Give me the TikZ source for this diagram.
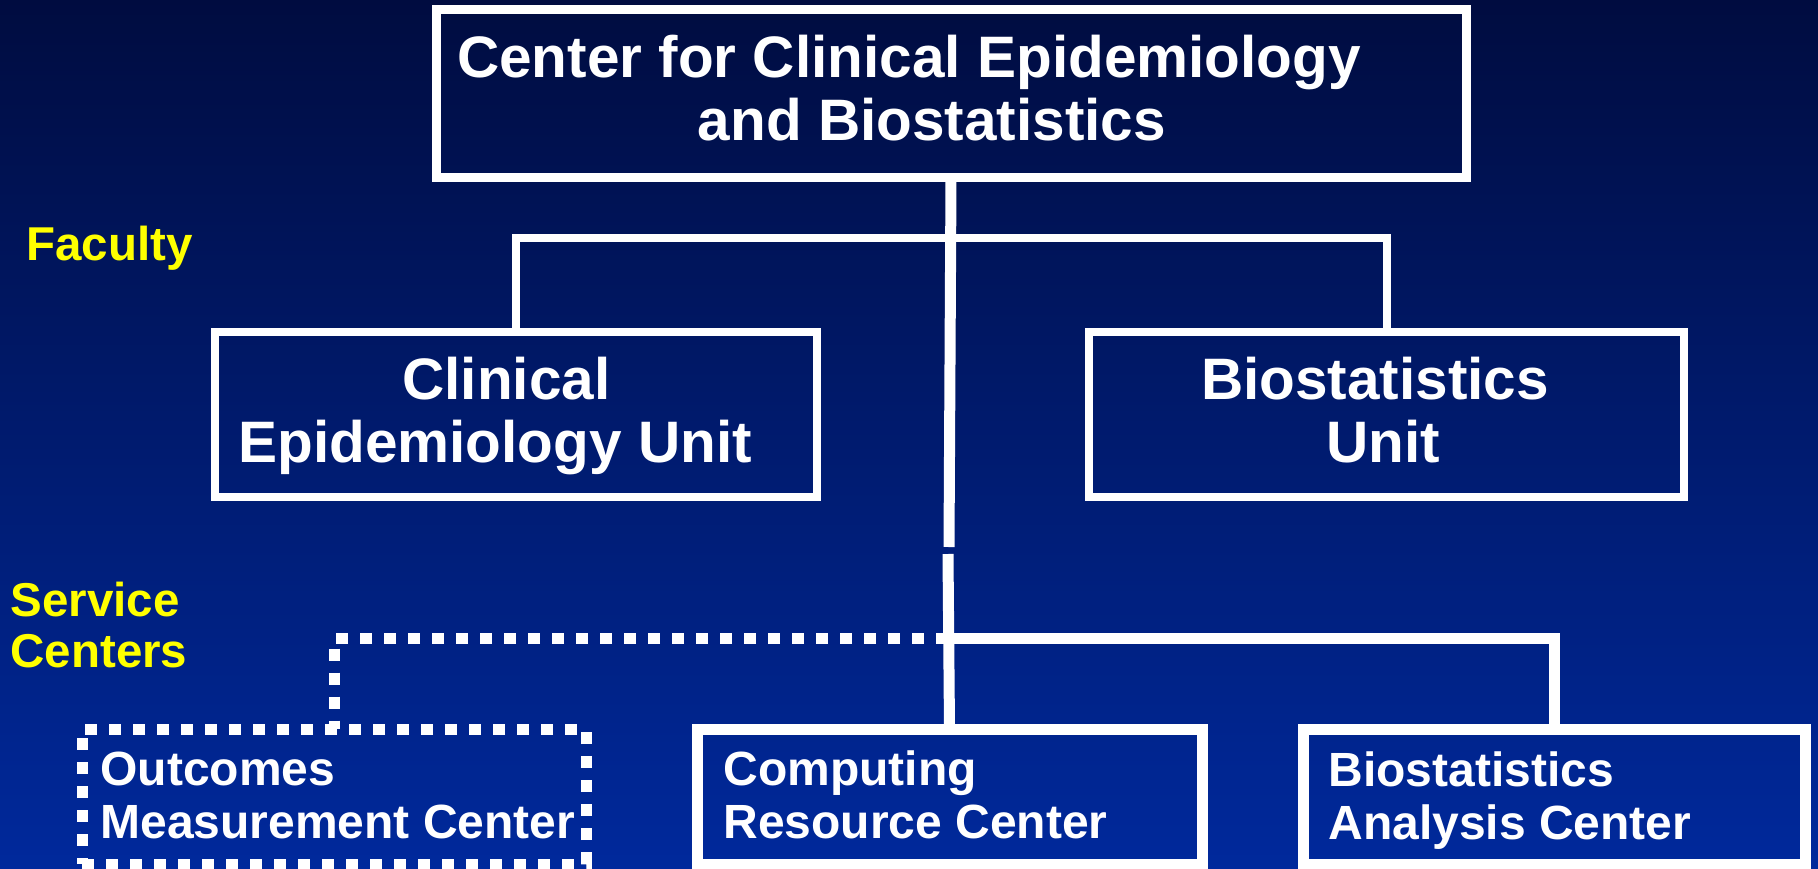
\documentclass[tikz,border=0pt]{standalone}
\usepackage{fontspec}
\setmainfont{Liberation Sans}
\usepackage{tikz}
\usepackage{xcolor}

\definecolor{navytop}{HTML}{000C40}
\definecolor{navybottom}{HTML}{00299C}
\definecolor{tagyellow}{HTML}{FFFF00}

\newcommand{\boxbig}{\fontsize{58.5pt}{63pt}\selectfont\bfseries}
\newcommand{\boxsmall}{\fontsize{48pt}{53pt}\selectfont\bfseries}
\newcommand{\tagfont}{\fontsize{47.5pt}{51pt}\selectfont\bfseries}

\tikzset{
    unitbox/.style={draw=white, rectangle, anchor=north west, inner sep=0pt, outer sep=0pt},
    dotbox/.style={unitbox, dash pattern=on 12pt off 12pt},
    boxtext/.style={text=white, inner sep=0pt},
    tagtext/.style={text=tagyellow, inner sep=0pt, font=\tagfont, align=left},
}

\begin{document}
\begin{tikzpicture}[x=1pt, y=-1pt, line width=11pt]

	% background
	\useasboundingbox (0,0) rectangle (1818,869);
	\fill[top color=navytop, bottom color=navybottom] (0,0) rectangle (1818,869);

	% top of the tree
	\node[unitbox, line width=9pt, minimum width=1030pt, minimum height=168pt] (cceb) at (436,10) {};
	\node[boxtext, font=\boxbig, align=center] (cceb-txt) at (909,88)
	    {Center for Clinical Epidemiology\\\hspace*{46pt}and Biostatistics};

	% faculty units
	\node[unitbox, line width=8pt, minimum width=602pt, minimum height=165pt] (ceu) at (215,332) {};
	\node[boxtext, font=\boxbig, align=center] (ceu-txt) at (495,416)
	    {\hspace*{23pt}Clinical\\Epidemiology Unit};

	\node[unitbox, line width=8pt, minimum width=595pt, minimum height=165pt] (bu) at (1089,332) {};
	\node[boxtext, font=\boxbig, align=center] (bu-txt) at (1375,410)
	    {Biostatistics\\\hspace*{16pt}Unit};

	% service centers
	\node[dotbox, minimum width=504pt, minimum height=135pt] (omc) at (82,729) {};
	\node[boxtext, font=\boxsmall, align=left, anchor=west] (omc-txt) at (95,795)
	    {Outcomes\\Measurement Center};

	\node[unitbox, minimum width=505pt, minimum height=135pt] (crc) at (697,729) {};
	\node[boxtext, font=\boxsmall, align=left, anchor=west] (crc-txt) at (718,795)
	    {Computing\\Resource Center};

	\node[unitbox, minimum width=502pt, minimum height=135pt] (bac) at (1303,729) {};
	\node[boxtext, font=\boxsmall, align=left, anchor=west] (bac-txt) at (1323,801)
	    {Biostatistics\\Analysis Center};

	% side tags
	\node[tagtext, anchor=base west] (faculty) at (21,261) {Faculty};
	\node[tagtext, anchor=west] (service) at (5,625) {Service\\Centers};

	% connectors
	\coordinate (facbar) at (951,238);
	\coordinate (split) at (949,547);
	\coordinate (rejoin) at (948,554);
	\coordinate (svcbar) at (948,638.5);

	\draw[white] (cceb.south) -- (split);
	\draw[white, line width=8pt] (ceu.north) |- (facbar) -| (bu.north);

	\draw[white] (rejoin) -- (crc.north);
	\draw[white] (svcbar) -| (bac.north);
	\draw[white, dash pattern=on 12pt off 12pt] (svcbar) -| (omc.north);

\end{tikzpicture}
\end{document}
